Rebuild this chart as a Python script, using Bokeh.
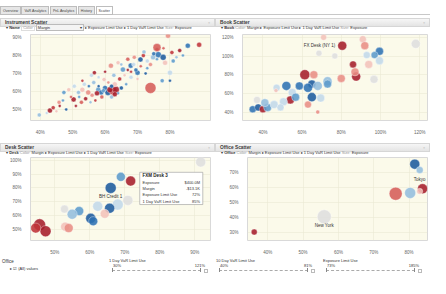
from bokeh.plotting import figure
from bokeh.layouts import column, row
from bokeh.models import Div, ColumnDataSource, PrintfTickFormatter, FixedTicker, Range1d
from bokeh.transform import linear_cmap
from bokeh.core.properties import value
from bokeh.embed import file_html
from bokeh.resources import INLINE
import numpy as np

FONT = "Liberation Sans"
PALETTE = ['#a51c2a', '#bf3338', '#d55c58', '#e88d84', '#f3c2ba', '#dedede',
           '#c2d8e9', '#93bddd', '#5b9acb', '#2e72b3', '#1b5a9d']

# ---------------- data ----------------
# Instrument scatter (x: exposure limit use %, y: 1 day VaR limit use %, margin -1..1, exposure $M)
ins_x = [39.7, 43.0, 44.0, 45.8, 47.3, 48.8, 50.3, 51.8, 52.7, 53.6, 54.8, 55.8, 56.7, 57.9, 58.8, 59.7,
         60.9, 62.4, 63.3, 61.8, 62.7, 64.0, 65.5, 67.0, 67.9, 68.8, 70.0, 70.9, 71.8, 73.0, 74.0, 74.8,
         76.0, 76.4, 77.6, 77.9, 78.5, 80.0, 80.0, 80.6, 81.0, 83.0, 85.5, 89.0, 79.4, 76.0,
         46.0, 48.0, 49.5, 50.5, 51.0, 52.0, 53.0, 54.0, 55.0, 56.0, 56.5, 57.0, 58.0, 59.0, 60.0, 61.0,
         62.0, 63.0, 64.0, 64.5, 65.0, 66.0, 66.5, 67.0, 68.0, 69.0, 69.5, 71.0, 72.0, 72.5, 74.0, 75.0,
         78.0, 82.0, 47.0, 45.0, 42.0, 53.0, 58.0, 60.0, 65.0, 70.0, 57.5, 59.5, 61.5, 63.0, 55.5, 62.0,
         68.0, 73.0, 76.0, 84.0]
ins_y = [47, 49.4, 51, 54, 59.5, 61, 55.6, 59.5, 54, 64, 59.5, 69, 70.5, 61, 59.5, 66.7,
         59.5, 60.5, 61, 74.4, 69, 76, 72.2, 78, 74.4, 75, 70.5, 77.8, 80, 77, 62, 79,
         83.3, 80.5, 66, 79, 76, 66, 70.5, 81.7, 77, 82.8, 85.5, 86, 91, 84.5,
         52, 50, 57, 63, 52, 57, 61, 56, 63, 58, 65, 55, 63, 57, 62, 65,
         57, 64, 59, 67, 62, 69, 64, 72, 68, 79, 72, 74, 82, 70, 75, 81,
         84, 79, 55, 49, 48, 66, 68, 71, 75, 67, 59, 60.5, 61, 58.5, 54, 63,
         71, 73, 78, 80]
ins_margin = [0.3, -1, -0.8, -0.3, 0.5, -0.2, -0.9, 0.4, -0.6, 0.2, -0.4, 0.1, -1, 0.6, 0.8, -0.2,
              0.9, -0.8, -0.9, -0.3, 0.3, -0.1, 0.6, -0.5, 0.8, 0.2, 0.7, 0.9, -0.7, 0.1, -0.5, 0.4,
              -0.9, 0.8, 0.6, 0.9, -0.2, 1, 0.2, -0.8, 0.5, -1, 0.8, -0.7, -0.3, -0.5,
              -0.9, 0.9, -0.5, 0.1, -1, 0.6, -0.2, -0.9, 0.8, -0.3, 0.4, -0.7, 0.9, -0.6, 0.7, -0.4,
              0.3, -0.2, 0.5, -0.8, 0.9, -0.1, 0.6, -0.9, 0.2, -0.4, 0.8, -0.6, 0.3, 0.9, -0.3, 0.7,
              -0.6, 0.3, 0.5, -0.2, 0.1, -0.7, 0.2, -0.9, 0.4, -0.2, -1, 0.5, -1, -0.9, 0.3, 0.9,
              -0.7, 0.5, 0.6, 0.5]
ins_exposure = [6.3, 9.8, 6.3, 6.3, 6.3, 6.3, 9.8, 6.3, 6.3, 6.3, 9.8, 6.3, 6.3, 9.8, 9.8, 6.3,
                14.1, 25.0, 19.1, 9.8, 6.3, 6.3, 9.8, 6.3, 9.8, 6.3, 9.8, 9.8, 6.3, 6.3, 47.3, 9.8,
                6.3, 14.1, 6.3, 14.1, 9.8, 3.5, 9.8, 6.3, 6.3, 6.3, 9.8, 9.8, 9.8, 25.0,
                3.5, 3.5, 3.5, 6.3, 3.5, 3.5, 9.8, 6.3, 3.5, 6.3, 6.3, 3.5, 3.5, 6.3, 9.8, 3.5,
                6.3, 9.8, 3.5, 6.3, 6.3, 3.5, 3.5, 3.5, 6.3, 6.3, 6.3, 3.5, 6.3, 3.5, 6.3, 6.3,
                3.5, 3.5, 3.5, 3.5, 3.5, 3.5, 3.5, 3.5, 3.5, 3.5, 9.8, 6.3, 14.1, 9.8, 3.5, 6.3,
                3.5, 3.5, 3.5, 3.5]
ins_label = [""] * len(ins_x)

# Book scatter
book_x = [80.5, 71, 68.6, 76.7, 91, 92, 99.5, 97, 99.5, 93, 118, 86, 87.6, 87, 80, 96.7, 94, 73, 73,
          61.4, 66, 65, 63, 68, 58.6, 52, 47, 55, 65, 69.5, 54, 56.7, 50.5, 46.7, 63, 68,
          34.8, 37.6, 40, 42.4, 45.7, 41, 49, 37]
book_y = [111, 120, 103, 100, 118, 111, 105, 101, 95, 101, 113, 91, 78, 83, 76, 75, 91, 73, 70,
          80, 80, 70, 66, 68, 68, 68, 66, 61, 56, 55, 53, 56, 51, 63, 48, 40,
          43, 45, 43, 45, 48, 50, 45, 53]
book_margin = [-1, -0.2, 0, 0.05, -0.2, -0.4, 0.8, 0.6, 0.2, 0.1, 0, -0.95, -0.85, -0.3, -0.4, 0, -0.25, 0.4, 0.5,
               -1, -0.3, 0.95, 0.7, 0.3, 0.8, 0.7, 0.1, 0.2, 0.9, 0.25, -0.9, 0.5, 0.1, -0.2, -0.35, -0.4,
               0.8, 0.95, -0.9, 0.6, 0.1, 0.3, 0.2, 0.05]
book_exposure = [127, 56, 56, 56, 77, 100, 100, 77, 100, 77, 127, 77, 127, 100, 100, 100, 100, 127, 100,
                 156, 100, 100, 127, 127, 100, 127, 77, 100, 127, 100, 100, 100, 100, 25, 77, 25,
                 77, 77, 77, 100, 100, 100, 77, 77]
book_label = ["FX Desk (NY 1)"] + [""] * (len(book_x) - 1)

# Desk scatter
desk_x = [91.7, 68.9, 71.7, 66, 70.9, 68, 65.7, 62.3, 60.3, 61, 64.3, 57, 55, 52.8, 53, 54, 45.7, 47.4, 44.6]
desk_y = [98.7, 88, 85, 80, 71, 68, 65.3, 66.7, 58, 56, 61.3, 63.3, 61, 64.7, 52, 51, 53.3, 48.7, 51]
desk_margin = [0.05, 0.55, -0.9, 0.85, 0.05, 0.15, 0.9, 0.2, 0.85, 0.8, -0.2, 0.5, 0.35, 0.05, -0.2, -0.4, -1, -0.85, -0.8]
desk_exposure = [400, 324, 400, 484, 400, 484, 400, 400, 400, 324, 324, 324, 400, 256, 324, 324, 576, 484, 400]
desk_label = ["", "", "", "BH Credit 1"] + [""] * (len(desk_x) - 4)
tip_name = "FXM Desk 3"
tip_rows = ["Exposure", "Margin", "Exposure Limit Use", "1 Day VaR Limit Use"]
tip_vals = ["$400.0M", "-$13.1K", "72%", "85%"]

# Office scatter
office_x = [81.6, 83, 83.8, 83, 80.3, 76.2, 56, 36.2]
office_y = [75.6, 71.7, 59.3, 57.6, 56.5, 56, 40.7, 30.6]
office_margin = [0.95, 0.3, -0.95, -0.15, 0.3, -0.5, 0.05, -1]
office_exposure = [816, 400, 816, 294, 988, 1380, 1600, 294]
office_label = ["", "Tokyo", "", "", "", "", "New York", ""]

filters = [("1 Day VaR Limit Use", "30%", "121%"),
           ("10 Day VaR Limit Use", "40%", "81%"),
           ("Exposure Limit Use", "73%", "185%")]

NOMARGIN = (0, 0, 0, 0)


# ---------------- helpers ----------------
def header_div(text, w):
    return Div(width=w, height=9, margin=NOMARGIN, text=(
        f'<div style="box-sizing:border-box;width:{w}px;height:9px;'
        f'background:linear-gradient(#f6f6f6,#e4e4e4);border:1px solid #d6d6d6;'
        f'font-family:\'{FONT}\';font-weight:bold;font-size:4.8px;line-height:7px;'
        f'padding-left:4px;color:#3a3a3a;position:relative;white-space:nowrap;">{text}'
        f'<span style="position:absolute;right:4px;top:0;color:#aaa;font-weight:normal;">&#9643;</span></div>'))


def controls_div(dim, w, dropdown=False):
    if dropdown:
        color = ('<span style="color:#999;border:1px solid #ddd;padding:0 1px;">Color</span> '
                 '<span style="display:inline-block;width:48px;line-height:5px;border:1px solid #bbb;background:#f4f4f4;'
                 'padding:0 1px;position:relative;">Margin<span style="position:absolute;right:1px;">&#9662;</span></span>')
    else:
        color = '<span style="color:#999;">Color:</span> Margin'
    return Div(width=w, height=10, margin=NOMARGIN, text=(
        f'<div style="box-sizing:border-box;width:{w}px;height:10px;font-family:\'{FONT}\';'
        f'font-size:4px;line-height:10px;padding-left:6px;color:#333;white-space:nowrap;overflow:hidden;">'
        f'&#9662; <b>{dim}</b> {color} &#9656; Exposure Limit Use &#9656; 1 Day VaR Limit Use '
        f'<span style="color:#999;">Size:</span> Exposure</div>'))


def scatter_fig(x, y, margin, exposure, k, labels, label_mode, xr, yr, xticks, yticks,
                w, h, bl, br, bt, bb):
    p = figure(width=w, height=h, x_range=Range1d(*xr), y_range=Range1d(*yr),
               output_backend="svg", toolbar_location=None,
               min_border_left=bl, min_border_right=br, min_border_top=bt, min_border_bottom=bb)
    p.background_fill_color = "#fbfaea"
    p.border_fill_color = "white"
    p.outline_line_color = "#d9d9d9"
    p.grid.grid_line_color = "#ebe9d4"
    p.grid.grid_line_width = 0.6
    p.xaxis.ticker = FixedTicker(ticks=xticks)
    p.yaxis.ticker = FixedTicker(ticks=yticks)
    p.axis.formatter = PrintfTickFormatter(format="%d%%")
    p.axis.major_label_text_font = FONT
    p.axis.major_label_text_font_size = "4.5px"
    p.axis.major_label_text_color = "#666"
    p.axis.axis_line_color = None
    p.axis.major_tick_line_color = None
    p.axis.minor_tick_line_color = None
    p.axis.major_label_standoff = 3
    src = ColumnDataSource(dict(x=x, y=y, margin=margin, exposure=exposure,
                                size=k * np.sqrt(np.array(exposure, dtype=float)), label=labels))
    p.scatter("x", "y", size="size", source=src,
              fill_color=linear_cmap("margin", PALETTE, -1, 1), fill_alpha=0.88,
              line_color="white", line_alpha=0.7, line_width=0.5)
    if label_mode == "left":
        p.text("x", "y", text="label", source=src, x_offset=-7, text_align="right",
               text_baseline="middle", text_font=value(FONT), text_font_size="4.5px", text_color="#333")
    else:
        p.text("x", "y", text="label", source=src, y_offset=9, text_align="center",
               text_baseline="middle", text_font=value(FONT), text_font_size="4.5px", text_color="#333")
    return p, src


# ---------------- panels ----------------
W = 215
p1, _ = scatter_fig(ins_x, ins_y, ins_margin, ins_exposure, 1.6, ins_label, "below",
                    (37, 92.5), (43.9, 91.7), [40, 50, 60, 70, 80], [50, 60, 70, 80, 90],
                    W, 106, 30, 5, 3, 17)
p2, _ = scatter_fig(book_x, book_y, book_margin, book_exposure, 0.8, book_label, "left",
                    (29.6, 124), (31, 123), [40, 60, 80, 100, 120], [40, 60, 80, 100, 120],
                    W, 106, 27, 3, 3, 13)
p3, _ = scatter_fig(desk_x, desk_y, desk_margin, desk_exposure, 0.5, desk_label, "below",
                    (43.1, 94.5), (42, 102), [50, 60, 70, 80, 90], [50, 60, 70, 80, 90, 100],
                    W, 101, 30, 5, 1, 10)
p4, _ = scatter_fig(office_x, office_y, office_margin, office_exposure, 0.35, office_label, "below",
                    (34.3, 85.2), (25, 80), [40, 50, 60, 70, 80], [30, 40, 50, 60, 70],
                    W, 101, 32, 3, 1, 10)

# tooltip on the highlighted desk (index 2)
hx, hy = desk_x[2], desk_y[2]
p3.quad(left=[hx + 2.6], right=[hx + 20.6], top=[hy + 6.3], bottom=[hy - 17],
        fill_color="white", fill_alpha=0.95, line_color="#999", line_width=0.6)
row_y = [hy - 1 - 4.5 * i for i in range(len(tip_rows))]
p3.text([hx + 3.4], [hy + 3.7], text=[tip_name], text_font=value(FONT), text_font_size="4.5px",
        text_font_style="bold", text_baseline="middle", text_color="#222")
p3.text([hx + 3.4] * len(tip_rows), row_y, text=tip_rows, text_font=value(FONT),
        text_font_size="4px", text_baseline="middle", text_color="#333")
p3.text([hx + 19.8] * len(tip_vals), row_y, text=tip_vals, text_font=value(FONT),
        text_font_size="4px", text_baseline="middle", text_align="right", text_color="#333")

panel1 = column(header_div("Instrument Scatter", W), controls_div("Name", W, True), p1)
panel2 = column(header_div("Book Scatter", W), controls_div("Book", W), p2)
panel3 = column(header_div("Desk Scatter", W), controls_div("Desk", W), p3)
panel4 = column(header_div("Office Scatter", W), controls_div("Office", W), p4)

tabs_html = ('<div style="box-sizing:border-box;width:430px;height:12px;border-bottom:1px solid #c8c8c8;'
             f'font-family:\'{FONT}\';font-size:3.6px;padding-top:3px;white-space:nowrap;">')
for i, t in enumerate(["Overview", "VaR Analytics", "PnL Analytics", "History", "Scatter"]):
    bg = "#ffffff" if t == "Scatter" else "#e6e6e6"
    tabs_html += (f'<span style="display:inline-block;box-sizing:border-box;height:9px;line-height:8px;'
                  f'padding:0 2px;border:1px solid #bdbdbd;background:{bg};color:#444;'
                  f'margin-right:0.5px;">{t}</span>')
tabs_html += '</div>'
tabs = Div(width=430, height=12, margin=NOMARGIN, text=tabs_html)

fhtml = (f'<div style="position:relative;width:430px;height:22px;font-family:\'{FONT}\';color:#333;">'
         '<div style="position:absolute;left:2px;top:2px;font-size:4.5px;">Office</div>'
         '<div style="position:absolute;left:10px;top:9px;font-size:4px;">&#9656; &#9745; (All) values</div>')
for i, (name, lo, hi) in enumerate(filters):
    left = 109 + i * 107
    fhtml += (f'<div style="position:absolute;left:{left}px;top:0px;width:100px;height:22px;font-size:4px;">'
              f'<div style="position:absolute;left:0;top:1px;">{name}</div>'
              f'<div style="position:absolute;left:4px;top:6px;">{lo}</div>'
              f'<div style="position:absolute;right:4px;top:6px;">{hi}</div>'
              '<div style="position:absolute;left:3px;right:8px;top:13px;border-top:1px dashed #aaa;"></div>'
              '<div style="position:absolute;left:3px;top:11px;width:1px;height:4px;background:#888;"></div>'
              '<div style="position:absolute;right:8px;top:11px;width:1px;height:4px;background:#888;"></div>'
              '<div style="position:absolute;right:1px;top:12px;width:4px;height:4px;border:1px solid #bbb;"></div>'
              '</div>')
fhtml += '</div>'
filter_div = Div(width=430, height=22, margin=NOMARGIN, text=fhtml)

layout = column(tabs, row(panel1, panel2), row(panel3, panel4), filter_div)

open("out.html", "w").write(file_html(layout, INLINE))
